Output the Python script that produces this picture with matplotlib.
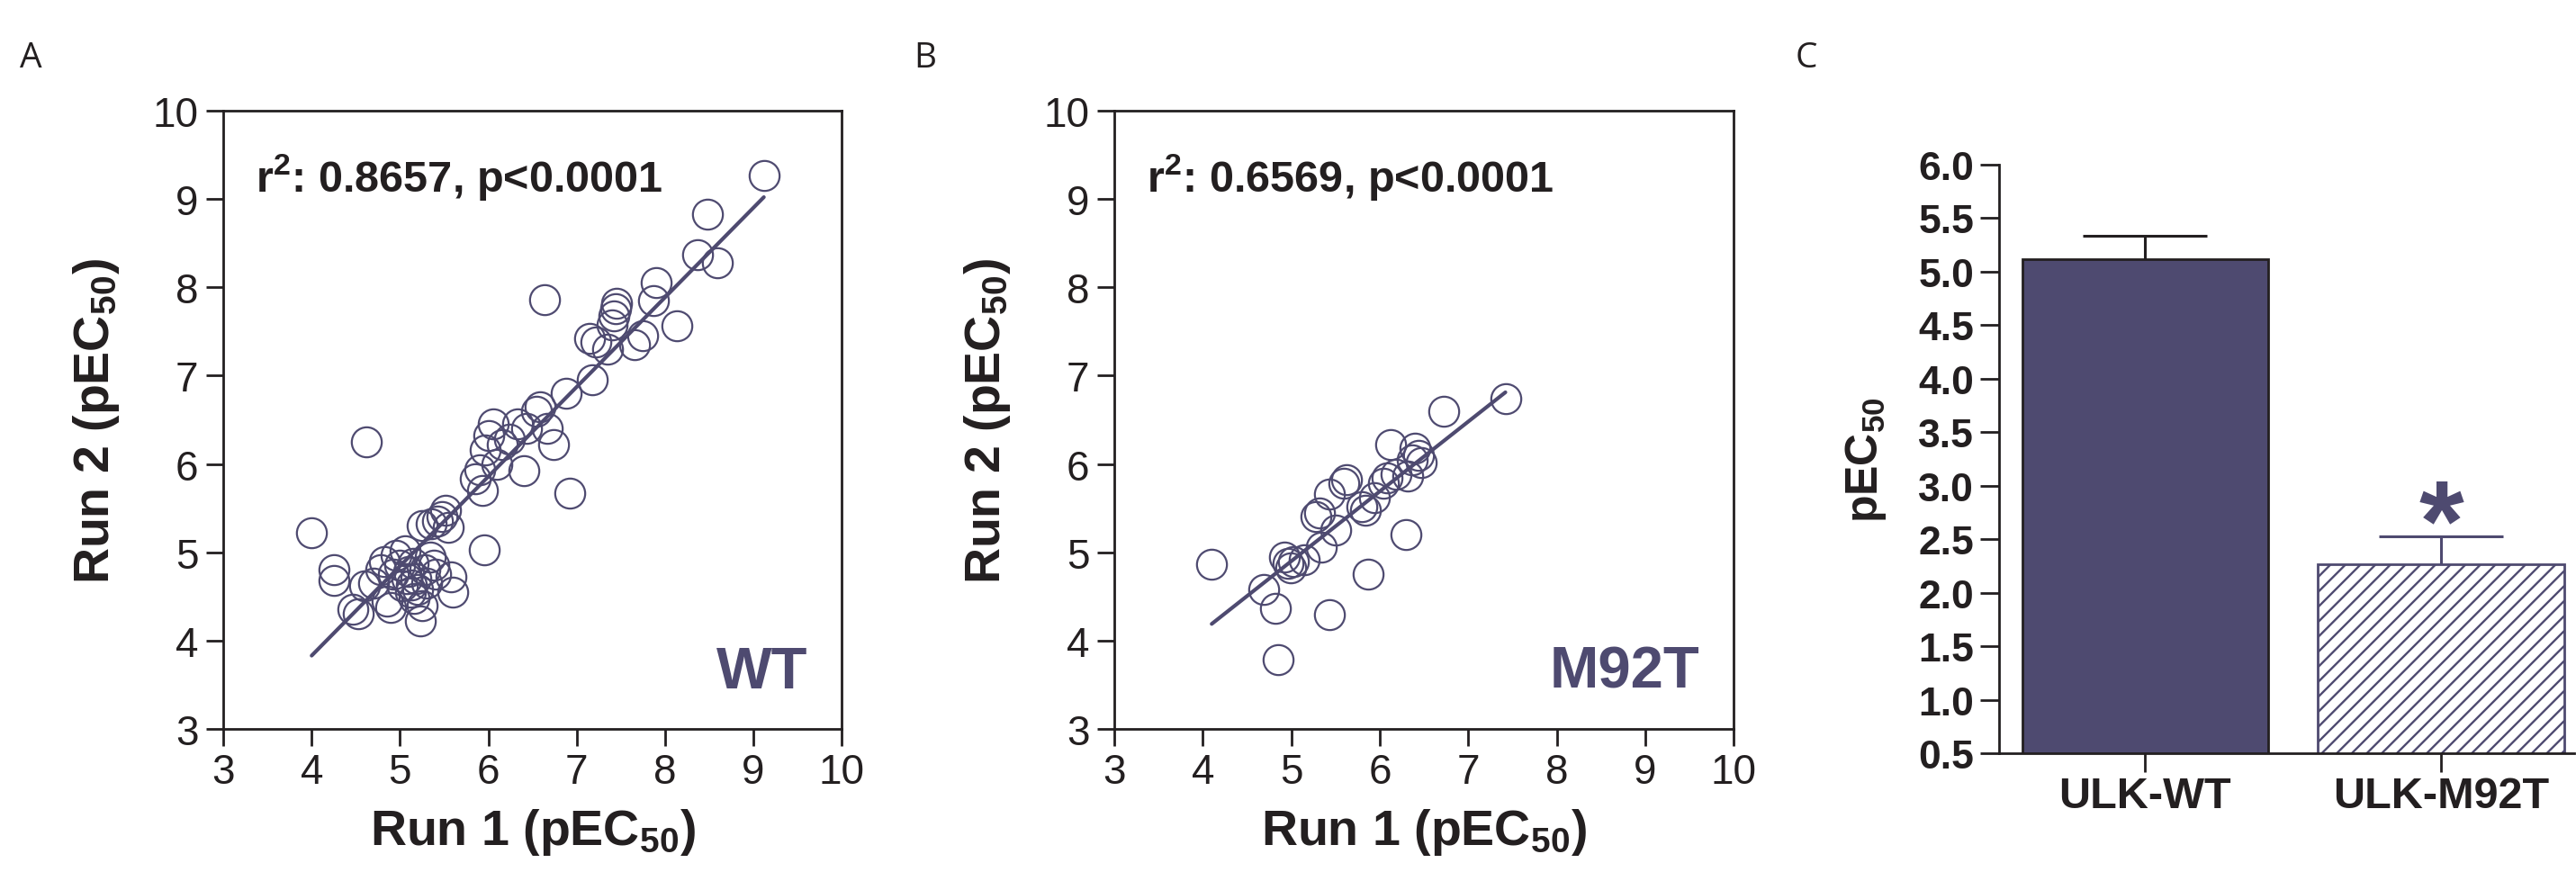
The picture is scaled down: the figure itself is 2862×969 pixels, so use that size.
import numpy as np
import matplotlib
matplotlib.use("Agg")
import matplotlib.pyplot as plt

plt.rcParams['font.family'] = ['Liberation Sans', 'DejaVu Sans']
plt.rcParams['mathtext.fontset'] = 'custom'
plt.rcParams['mathtext.rm'] = 'Liberation Sans'
plt.rcParams['mathtext.bf'] = 'Liberation Sans:bold'
plt.rcParams['hatch.linewidth'] = 1.7

# panel A: ULK-WT, run 1 vs run 2 pEC50
run1_wt = [4.00, 4.25, 4.25, 4.47, 4.53, 4.62, 4.60, 4.70, 4.78, 4.82,
           4.85, 4.89, 4.92, 4.96, 5.00, 5.03, 5.06, 5.08, 5.10, 5.12,
           5.13, 5.15, 5.16, 5.18, 5.20, 5.23, 5.25, 5.28, 5.30, 5.34,
           5.38, 5.40, 5.58, 5.60, 5.25, 5.35, 5.42, 5.48, 5.52, 5.55,
           5.95, 5.85, 5.90, 5.93, 5.96, 6.00, 6.06, 6.10, 6.16, 6.24,
           6.33, 6.40, 6.43, 6.54, 6.59, 6.67, 6.74, 6.88, 6.92, 6.64,
           7.18, 7.15, 7.22, 7.35, 7.40, 7.42, 7.44, 7.45, 7.66, 7.75,
           7.87, 7.90, 8.13, 8.37, 8.59, 8.48, 9.12]
run2_wt = [5.22, 4.80, 4.68, 4.36, 4.30, 6.25, 4.62, 4.65, 4.80, 4.90,
           4.45, 4.38, 4.75, 4.97, 4.85, 4.62, 5.02, 4.70, 4.78, 4.55,
           4.63, 4.88, 4.48, 4.70, 4.58, 4.22, 4.40, 4.80, 4.65, 4.95,
           4.85, 4.75, 4.72, 4.55, 5.30, 5.32, 5.35, 5.40, 5.48, 5.28,
           5.03, 5.83, 5.93, 5.70, 6.16, 6.32, 6.45, 6.00, 6.22, 6.28,
           6.45, 5.92, 6.40, 6.60, 6.65, 6.40, 6.22, 6.80, 5.67, 7.86,
           6.95, 7.42, 7.38, 7.30, 7.58, 7.68, 7.76, 7.82, 7.35, 7.45,
           7.85, 8.05, 7.57, 8.37, 8.28, 8.83, 9.27]
fit_wt = (1.014, -0.226)
stats_wt = r"$\mathbf{r^2}$: 0.8657, p<0.0001"

# panel B: ULK-M92T
run1_m92t = [4.10, 4.69, 4.82, 4.85, 5.43, 5.87, 6.30, 4.92, 4.96, 4.99,
             5.02, 5.15, 5.34, 5.50, 5.28, 5.32, 5.43, 5.59, 5.62, 5.80,
             5.84, 5.94, 6.04, 6.08, 6.18, 6.12, 6.32, 6.40, 6.44, 6.47,
             6.37, 6.72, 7.42]
run2_m92t = [4.87, 4.58, 4.37, 3.78, 4.29, 4.75, 5.20, 4.95, 4.88, 4.82,
             4.90, 4.92, 5.06, 5.25, 5.40, 5.45, 5.66, 5.78, 5.82, 5.52,
             5.48, 5.62, 5.78, 5.84, 5.88, 6.22, 5.86, 6.18, 6.10, 6.02,
             6.05, 6.60, 6.74]
fit_m92t = (0.79, 0.95)
stats_m92t = r"$\mathbf{r^2}$: 0.6569, p<0.0001"

# panel C: mean pEC50 +/- SEM
groups = ['ULK-WT', 'ULK-M92T']
means = [5.12, 2.27]
sems = [0.22, 0.26]
star_y = 2.92

purple = '#4e4a70'
ink = '#231f20'

fig = plt.figure(figsize=(28.62, 9.70), dpi=100)


def scatter_panel(rect, x, y, fit, stats, tag):
    ax = fig.add_axes(rect)
    x = np.array(x)
    ax.plot(x, y, 'o', ls='none', ms=24, mfc='none', mec=purple, mew=1.6)
    xs = np.array([x.min(), x.max()])
    ax.plot(xs, fit[0] * xs + fit[1], color=purple, lw=3, solid_capstyle='round')
    ax.set_xlim(3, 10)
    ax.set_ylim(3, 10)
    ax.set_xticks(range(3, 11))
    ax.set_yticks(range(3, 11))
    for s in ax.spines.values():
        s.set_linewidth(2)
        s.set_color(ink)
    ax.tick_params(direction='out', length=14, width=2, color=ink,
                   labelsize=33, labelcolor=ink)
    ax.tick_params(axis='x', pad=5)
    ax.tick_params(axis='y', pad=6)
    ax.set_xlabel(r'Run 1 ($\mathbf{pEC_{50}}$)', fontsize=40, fontweight='bold', color=ink)
    ax.set_ylabel(r'Run 2 ($\mathbf{pEC_{50}}$)', fontsize=40, fontweight='bold', color=ink)
    ax.xaxis.set_label_coords(0.5, -0.125)
    ax.yaxis.set_label_coords(-0.165, 0.5)
    ax.text(0.052, 0.871, stats, transform=ax.transAxes, fontsize=35,
            fontweight='bold', color=ink, va='baseline')
    ax.text(0.945, 0.067, tag, transform=ax.transAxes, fontsize=47,
            fontweight='bold', color=purple, ha='right', va='baseline')
    return ax


scatter_panel([0.0867, 0.1639, 0.2400, 0.7082], run1_wt, run2_wt, fit_wt, stats_wt, 'WT')
scatter_panel([0.4326, 0.1639, 0.2404, 0.7082], run1_m92t, run2_m92t, fit_m92t, stats_m92t, 'M92T')

# panel C
axc = fig.add_axes([0.7760, 0.1358, 0.2233, 0.6745])
xpos = np.arange(len(groups))
edge_cols = [ink, purple]
bars = axc.bar(xpos, means, width=0.832, bottom=0, color=[purple, 'white'],
               edgecolor=edge_cols, linewidth=2, zorder=2)
bars[1].set_hatch('//')
cap = 0.21
upper = np.array(means) + np.array(sems)
axc.vlines(xpos, means, upper, colors=edge_cols, lw=2.2, zorder=1)
axc.hlines(upper, xpos - cap, xpos + cap, colors=edge_cols, lw=2.2, zorder=1)
star_fs = 92
axc.annotate('*', (1, star_y), xytext=(0, -0.56 * star_fs), textcoords='offset points',
             fontsize=star_fs, fontweight='bold', color=purple,
             ha='center', va='baseline')
axc.set_xlim(-0.494, 1.45)
axc.set_ylim(0.5, 6.0)
axc.set_yticks(np.arange(0.5, 6.01, 0.5))
axc.set_yticklabels([f'{v:.1f}' for v in np.arange(0.5, 6.01, 0.5)])
axc.set_xticks(xpos)
axc.set_xticklabels(groups)
axc.spines['top'].set_visible(False)
axc.spines['right'].set_visible(False)
for s in ['left', 'bottom']:
    axc.spines[s].set_linewidth(2)
    axc.spines[s].set_color(ink)
axc.tick_params(direction='out', length=15, width=2, color=ink, labelcolor=ink)
axc.tick_params(axis='y', labelsize=32, pad=5)
axc.tick_params(axis='x', labelsize=35, pad=3)
for lab in axc.get_xticklabels() + axc.get_yticklabels():
    lab.set_fontweight('bold')
axc.set_ylabel(r'$\mathbf{pEC_{50}}$', fontsize=36, color=ink)
axc.yaxis.set_label_coords(-0.193, 0.5)

# panel letters
for lx, letter in [(0.0077, 'A'), (0.3547, 'B'), (0.6970, 'C')]:
    fig.text(lx, 0.923, letter, fontsize=28, family='Open Sans', color=ink)

fig.savefig('out.png', dpi=100)
